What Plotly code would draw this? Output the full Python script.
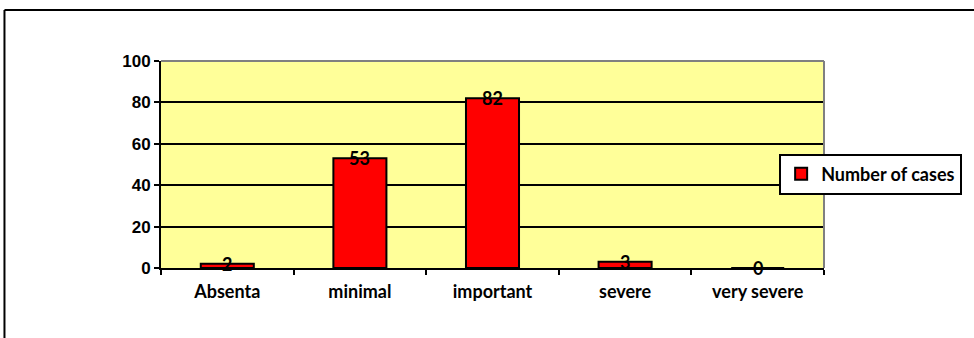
import plotly.graph_objects as go

categories = ["Absenta", "minimal", "important", "severe", "very severe"]
values = [2, 53, 82, 3, 0]
series_name = "Number of cases"
y_ticks = [0, 20, 40, 60, 80, 100]

W, H = 974, 338
L, R, T, B = 161, 148, 61, 70
pw, ph = W - L - R, H - T - B

def px_x(x):
    return (x - L) / pw

def px_y(y):
    return (H - B - y) / ph

fig = go.Figure()
fig.add_trace(go.Bar(
    x=categories, y=values, name=series_name,
    marker=dict(color="#FF0000", line=dict(color="black", width=2)),
    width=0.4, showlegend=True,
))

for c, v in zip(categories, values):
    fig.add_annotation(x=c, y=v, text=str(v), showarrow=False,
                       xanchor="center", yanchor="middle",
                       font=dict(family="Lato", size=18, color="black", weight="bold"))

shapes = [
    dict(type="line", xref="paper", yref="paper", x0=0, x1=1, y0=1, y1=1,
         line=dict(color="#808080", width=2), layer="above"),
    dict(type="line", xref="paper", yref="paper", x0=1, x1=1, y0=0, y1=1,
         line=dict(color="#808080", width=2), layer="above"),
    dict(type="line", xref="paper", yref="paper", x0=px_x(4), x1=px_x(W + 5),
         y0=px_y(10), y1=px_y(10), line=dict(color="black", width=2)),
    dict(type="line", xref="paper", yref="paper", x0=px_x(4), x1=px_x(4),
         y0=px_y(10), y1=px_y(H + 5), line=dict(color="black", width=2)),
]

fig.update_layout(
    width=W, height=H,
    margin=dict(l=L, r=R, t=T, b=B),
    paper_bgcolor="white",
    plot_bgcolor="#FFFF99",
    bargap=0.6,
    shapes=shapes,
    showlegend=True,
    legend=dict(x=px_x(781), y=px_y(174), xanchor="left", yanchor="middle",
                bgcolor="white", bordercolor="black", borderwidth=2,
                font=dict(family="Lato", size=18, color="black", weight="bold"),
                itemwidth=30, tracegroupgap=0),
    xaxis=dict(type="category", showline=True, linecolor="black", linewidth=2,
               ticks="outside", tickson="boundaries", ticklen=5, tickwidth=2,
               tickcolor="black", showgrid=False,
               tickfont=dict(family="Lato", size=18, color="black", weight="bold"),
               ticklabelstandoff=6),
    yaxis=dict(range=[0, 100], tickvals=y_ticks, showline=True, linecolor="black",
               linewidth=2, ticks="outside", ticklen=5, tickwidth=2, tickcolor="black",
               showgrid=True, gridcolor="black", gridwidth=2, zeroline=False,
               tickfont=dict(family="Liberation Sans", size=17, color="black", weight="bold")),
)

fig.write_html("out.html")
